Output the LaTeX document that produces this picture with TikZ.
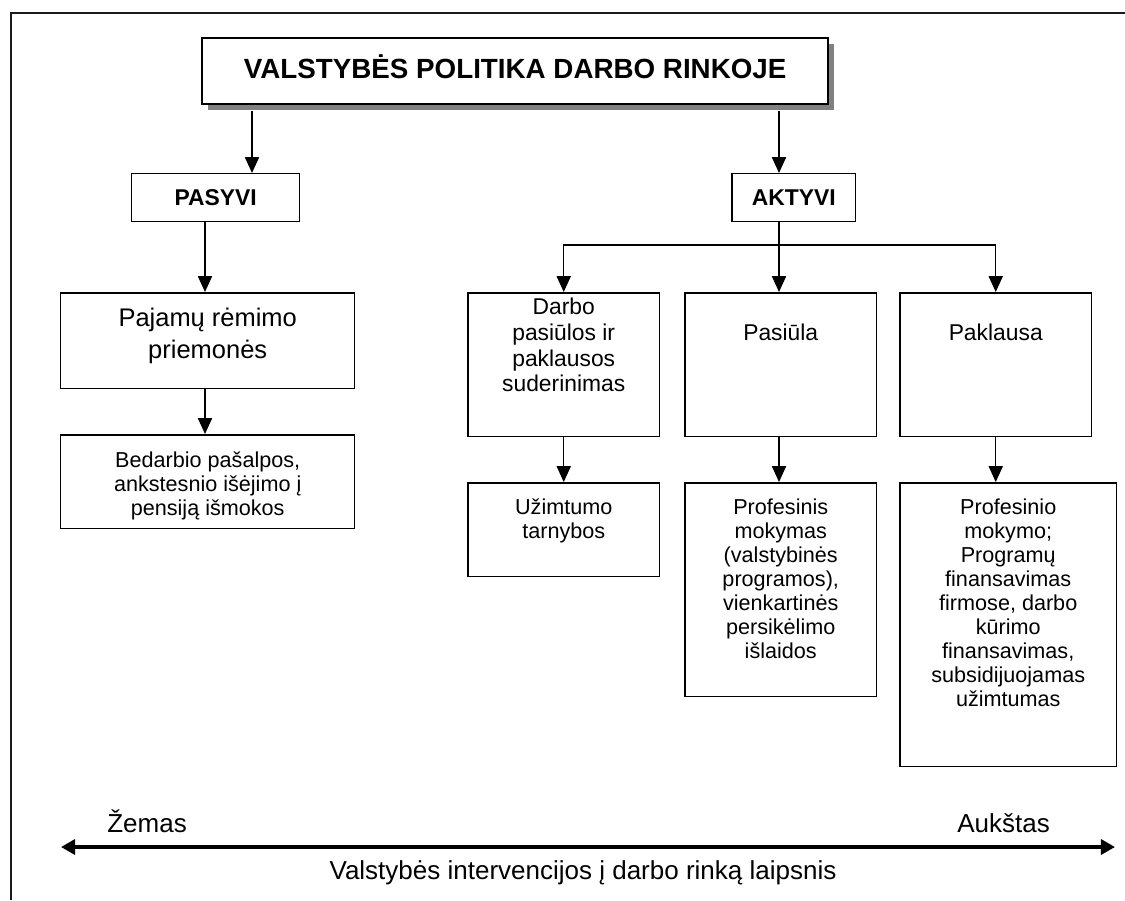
\documentclass[tikz,border=0pt]{standalone}
\usepackage{fontspec}
\setmainfont{Liberation Sans}
\usepackage{tikz}
\usetikzlibrary{arrows.meta, positioning, shadows}
\usepackage{xcolor}
\definecolor{shadowgray}{HTML}{808080}
\definecolor{framegray}{HTML}{1A1A1A}
\newcommand{\sizetitle}{\fontsize{15.8}{18}\selectfont\bfseries}
\newcommand{\sizehead}{\fontsize{13}{15}\selectfont\bfseries}
\newcommand{\sizebig}{\fontsize{14.5}{18}\selectfont}
\newcommand{\sizemid}{\fontsize{13}{14.7}\selectfont}
\newcommand{\sizesmall}{\fontsize{12.3}{13.7}\selectfont}
\newcommand{\sizeaxis}{\fontsize{14.8}{17}\selectfont}

\begin{document}
\begin{tikzpicture}[x=0.02cm, y=-0.02cm,
    box/.style={draw, line width=0.85pt, anchor=north west, inner sep=0pt},
    lbl/.style={align=center, inner sep=0pt},
    arr/.style={-{Triangle[length=9pt, width=8pt]}, line width=0.85pt},
    ln/.style={line width=0.85pt}]
  \useasboundingbox (0,0) rectangle (1125,900);
  % frame
  \draw[line width=1.1pt, framegray] (11,900) -- (11,13) -- (1125,13);

  % top box
  \node[box, line width=1.4pt, fill=white, minimum width=12.52cm, minimum height=1.32cm,
        drop shadow={shadow xshift=3.4pt, shadow yshift=-3.4pt, fill=shadowgray, opacity=1},
        font=\sizetitle, text depth=0.2cm] (pol) at (201,37) {VALSTYBĖS POLITIKA DARBO RINKOJE};

  % pasyvi / aktyvi
  \node[box, minimum width=3.36cm, minimum height=0.96cm, font=\sizehead] (pas) at (131,173) {PASYVI};
  \node[box, minimum width=2.48cm, minimum height=0.96cm, font=\sizehead] (akt) at (731,173) {AKTYVI};
  \coordinate (pasx) at (252,0);
  \coordinate (aktx) at (779,0);
  \draw[arr] ([yshift=-3.4pt]pol.south -| pasx) -- (pas.north -| pasx);
  \draw[arr] ([yshift=-3.4pt]pol.south -| aktx) -- (akt.north -| aktx);

  % passive branch
  \node[box, minimum width=5.88cm, minimum height=1.92cm] (paj) at (60,292) {};
  \node[lbl, font=\sizebig, below=0.32cm of paj.north] (pajt) {Pajamų rėmimo\\priemonės};
  \node[box, minimum width=5.88cm, minimum height=1.88cm] (bed) at (60,434) {};
  \node[lbl, font=\sizesmall, below=0.34cm of bed.north] (bedt) {Bedarbio pašalpos,\\ankstesnio išėjimo į\\pensiją išmokos};
  \coordinate (pajx) at (205,0);
  \draw[arr] (pas.south -| pajx) -- (paj.north -| pajx);
  \draw[arr] (paj.south -| pajx) -- (bed.north -| pajx);

  % active branch
  \node[box, minimum width=3.84cm, minimum height=2.88cm] (sud) at (467,292) {};
  \node[lbl, font=\sizemid, below=0.11cm of sud.north] (sudt) {Darbo\\pasiūlos ir\\paklausos\\suderinimas};
  \node[box, minimum width=3.84cm, minimum height=2.88cm] (pasi) at (684,292) {};
  \node[lbl, font=\sizemid, below=0.63cm of pasi.north] (pasit) {Pasiūla};
  \node[box, minimum width=3.84cm, minimum height=2.88cm] (pakl) at (899,292) {};
  \node[lbl, font=\sizemid, below=0.63cm of pakl.north] (paklt) {Paklausa};

  \coordinate (fork) at (779,245);
  \draw[ln] (akt.south -| fork) -- (fork);
  \draw[arr] (fork) -| (sud.north);
  \draw[arr] (fork) -- (fork |- pasi.north);
  \draw[arr] (fork) -| (pakl.north);

  \node[box, minimum width=3.84cm, minimum height=1.88cm] (uzt) at (467,482) {};
  \node[lbl, font=\sizesmall, below=0.32cm of uzt.north] (uztt) {Užimtumo\\tarnybos};
  \node[box, minimum width=3.84cm, minimum height=4.28cm] (prof) at (684,482) {};
  \node[lbl, font=\sizesmall, below=0.32cm of prof.north] (proft) {Profesinis\\mokymas\\(valstybinės\\programos),\\vienkartinės\\persikėlimo\\išlaidos};
  \node[box, minimum width=4.34cm, minimum height=5.68cm] (fin) at (899,482) {};
  \node[lbl, font=\sizesmall, below=0.32cm of fin.north] (fint) {Profesinio\\mokymo;\\Programų\\finansavimas\\firmose, darbo\\kūrimo\\finansavimas,\\subsidijuojamas\\užimtumas};

  \draw[arr] (sud.south) -- (sud.south |- uzt.north);
  \draw[arr] (pasi.south -| fork) -- (prof.north -| fork);
  \draw[arr] (pakl.south) -- (pakl.south |- fin.north);

  % intervention scale
  \coordinate (lo) at (61,847);
  \coordinate (hi) at (1115,847);
  \draw[{Triangle[length=8pt, width=8.5pt]}-{Triangle[length=8pt, width=8.5pt]}, line width=2.2pt] (lo) -- (hi);
  \node[font=\sizeaxis, anchor=base west, inner sep=0pt] (low) at (107,832) {Žemas};
  \node[font=\sizeaxis, anchor=base west, inner sep=0pt] (high) at (957,832) {Aukštas};
  \node[font=\sizeaxis, anchor=base, inner sep=0pt] (scale) at (583,879) {Valstybės intervencijos į darbo rinką laipsnis};
\end{tikzpicture}
\end{document}
